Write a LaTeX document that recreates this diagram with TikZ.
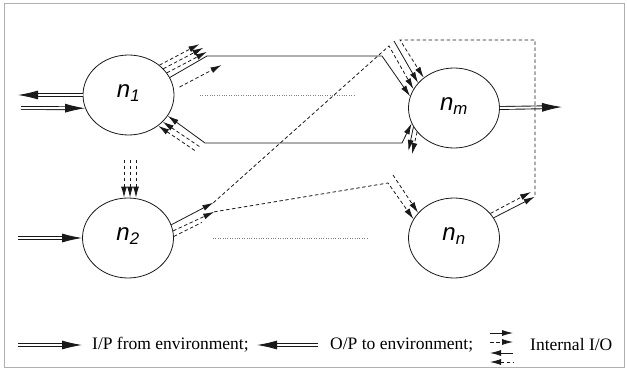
\documentclass[tikz,border=0pt]{standalone}
\usepackage{fontspec}
\setmainfont{Liberation Serif}
\setsansfont{Liberation Sans}
\usetikzlibrary{shapes.geometric,arrows.meta}
\definecolor{inkgray}{RGB}{25,25,25}
\definecolor{framegray}{RGB}{175,175,175}
\tikzstyle{proc} = [ellipse, draw=inkgray, line width=0.8pt, minimum width=91pt,
    minimum height=80pt, inner sep=0pt, text height=9pt, text depth=4pt,
    font={\fontsize{24}{28}\selectfont\sffamily\itshape}]
\tikzstyle{envio} = [draw=inkgray, line width=0.9pt, double=white, double distance=2pt,
    -{Latex[length=20pt,width=9pt]}]
\tikzstyle{intsolid} = [draw=inkgray, line width=0.8pt]
\tikzstyle{intdash} = [intsolid, dash pattern=on 3.5pt off 2.5pt]
\tikzstyle{legtext} = [anchor=west, inner sep=0pt, font={\fontsize{17.5}{20}\selectfont}]
\begin{document}
\begin{tikzpicture}[x=1pt,y=-1pt,>={Latex[length=11pt,width=6pt]}]
\useasboundingbox (0,0) rectangle (627,369);
\draw[framegray, line width=1pt] (4,4) rectangle (624,367);

% the four processes
\node[proc] (n1) at (128.5,95) {n\textsubscript{1}};
\node[proc] (n2) at (128,238) {n\textsubscript{2}};
\node[proc] (nm) at (454,108) {n\textsubscript{m}};
\node[proc] (nn) at (454,238) {n\textsubscript{n}};

% I/O with the environment
\coordinate (envout1) at (18,95);
\coordinate (envin1) at (21,108);
\coordinate (envin2) at (18,238);
\coordinate (envoutm) at (562,107);
\draw[envio] (n1.west) -- (envout1);
\draw[envio] (envin1) -- (n1.197);
\draw[envio] (envin2) -- (n2.west);
\draw[envio] (nm.east) -- (envoutm);

% n1 outputs
\draw[intsolid,->] (n1.23) -- (207,56) -- (382,56) -- (nm.165);
\foreach \a in {30,37,44}
  \draw[intdash,->] (n1.\a) -- ++(40,-21);
\draw[intdash,->] ([xshift=6pt]n1.10) -- ++(42,-22);

% n1 inputs
\draw[intsolid,<->] (nm.-160) -- (402,143) -- (205,143) -- (n1.-28);
\foreach \a in {-38,-46}
  \draw[intdash,<-] (n1.\a) -- ++(37,25);

% n2 inputs and outputs
\foreach \dx in {-4,2,8}
  \draw[intdash,<-] ([xshift=\dx pt]n2.north) -- ++(0,-39);
\draw[intsolid,->] (n2.17) -- ++(42,-22) coordinate (p2a);
\draw[intdash,->] (n2.9) -- ++(41,-19) coordinate (p2b);
\draw[intdash] (n2.2) -- ++(28,-14);
\draw[intdash,->] (p2a) -- (389,46) -- (nm.155);
\draw[intdash,->] (p2b) -- (388,183) -- (nn.155);

% remaining inputs of nm and nn
\coordinate (stubm) at (394,41);
\coordinate (stubn) at (393,175);
\draw[intsolid,->] (stubm) -- (nm.145);
\draw[intdash,->] (stubn) -- (nn.145);

% nm outputs
\draw[intsolid,->] (nm.-155) -- ++(-5,24);
\draw[intdash,->] (nm.-147) -- ++(-5,22);

% nn outputs and feedback to nm
\coordinate (cnr) at (535,195);
\draw[intdash,->] (nn.34) -- (531,192);
\draw[intsolid,->] (nn.27) -- ++(41,-21);
\draw[intdash,->] (cnr) -- (535,40) -- (400,40) -- (nm.135);

% further processes
\draw[gray, dotted] (200,95) -- (355,95);
\draw[gray, dotted] (213,238) -- (368,238);

% legend
\node[legtext] (lgip) at (92,345) {I/P from environment;};
\node[legtext] (lgop) at (330,345) {O/P to environment;};
\node[legtext] (lgint) at (530,345) {Internal I/O};
\draw[envio] (18,345) -- ([xshift=-10pt]lgip.west);
\draw[envio] ([xshift=-12pt]lgop.west) -- (257,345);
\draw[intsolid,->] (490,333) -- (513,333);
\draw[intdash,->] (490,342) -- (513,342);
\draw[intsolid,<-] (490,353) -- (513,353);
\draw[intdash,<-] (490,362) -- (513,362);
\end{tikzpicture}
\end{document}
